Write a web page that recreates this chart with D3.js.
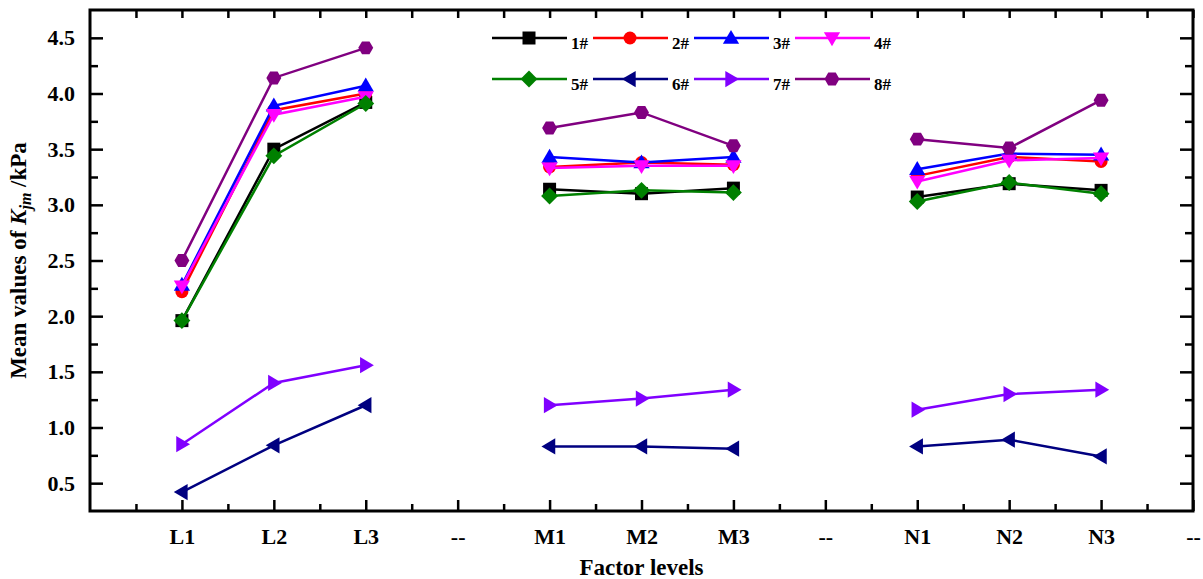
<!DOCTYPE html>
<html>
<head>
<meta charset="utf-8">
<script src="https://cdn.jsdelivr.net/npm/d3@7"></script>
<style>
  body { margin: 0; background: #fff; }
  text { font-family: "Liberation Serif", "Times New Roman", serif; font-weight: bold; }
</style>
</head>
<body>
<div id="chart"></div>
<script>
// category labels along the x axis (position 1..12)
var categories = ["L1", "L2", "L3", "--", "M1", "M2", "M3", "--", "N1", "N2", "N3", "--"];
// positions of the measured levels (the "--" slots stay empty)
var levelPos = [1, 2, 3, 5, 6, 7, 9, 10, 11];

var yTicks = [0.5, 1.0, 1.5, 2.0, 2.5, 3.0, 3.5, 4.0, 4.5];

var seriesNames = ["1#", "2#", "3#", "4#", "5#", "6#", "7#", "8#"];
var seriesColors = ["#000000", "#ff0000", "#0000ff", "#ff00ff", "#008000", "#000080", "#8000ff", "#800080"];
var seriesShapes = ["square", "circle", "up", "down", "diamond", "left", "right", "hexagon"];

// mean values of Kjm (kPa), L1 L2 L3 | M1 M2 M3 | N1 N2 N3
var s1 = [1.96, 3.50, 3.92, 3.14, 3.10, 3.15, 3.07, 3.19, 3.13];
var s2 = [2.22, 3.85, 4.00, 3.34, 3.38, 3.36, 3.26, 3.43, 3.39];
var s3 = [2.28, 3.89, 4.07, 3.43, 3.38, 3.43, 3.32, 3.46, 3.45];
var s4 = [2.27, 3.81, 3.97, 3.33, 3.35, 3.35, 3.21, 3.40, 3.42];
var s5 = [1.96, 3.44, 3.91, 3.08, 3.13, 3.11, 3.03, 3.20, 3.10];
var s6 = [0.42, 0.84, 1.20, 0.83, 0.83, 0.81, 0.83, 0.89, 0.74];
var s7 = [0.85, 1.40, 1.56, 1.20, 1.26, 1.34, 1.16, 1.30, 1.34];
var s8 = [2.50, 4.14, 4.41, 3.69, 3.83, 3.53, 3.59, 3.51, 3.94];
var allSeries = [s1, s2, s3, s4, s5, s6, s7, s8];

var W = 1203, H = 579;
var plot = {left: 90, right: 1193, top: 10, bottom: 511};

var svg = d3.select("#chart").append("svg")
  .attr("width", W).attr("height", H);

var x = d3.scaleLinear().domain([0, 12]).range([plot.left, plot.right]);
var y = d3.scaleLinear().domain([0.25, 4.75]).range([plot.bottom, plot.top]);

// marker path around 0,0
function marker(shape, r) {
  var p;
  if (shape == "square") {
    return "M" + (-r) + "," + (-r) + "H" + r + "V" + r + "H" + (-r) + "Z";
  }
  if (shape == "circle") {
    return d3.symbol(d3.symbolCircle, Math.PI * r * r)();
  }
  if (shape == "diamond") {
    var d = r * 1.3;
    return "M0," + (-d) + "L" + d + ",0L0," + d + "L" + (-d) + ",0Z";
  }
  if (shape == "hexagon") {
    p = d3.range(6).map(function(i) {
      var a = Math.PI / 3 * i;
      return [r * 1.15 * Math.cos(a), r * 1.15 * Math.sin(a)];
    });
    return "M" + p.join("L") + "Z";
  }
  var t = r * 1.25;
  if (shape == "up") p = [[0, -t], [t, t * 0.7], [-t, t * 0.7]];
  if (shape == "down") p = [[0, t], [t, -t * 0.7], [-t, -t * 0.7]];
  if (shape == "left") p = [[-t, 0], [t * 0.7, -t], [t * 0.7, t]];
  if (shape == "right") p = [[t, 0], [-t * 0.7, -t], [-t * 0.7, t]];
  return "M" + p.join("L") + "Z";
}

// axes: bottom/left with labels, top/right mirrored, all ticks pointing inward
var majorX = d3.range(1, 13);
var minorX = d3.range(0.5, 12, 1);
var minorY = d3.range(0.75, 4.6, 0.5);

function tickAxis(axisFn, scale, vals, len, labels, pad) {
  var a = axisFn(scale).tickValues(vals).tickSizeInner(-len).tickSizeOuter(0);
  if (labels) a.tickFormat(labels).tickPadding(pad);
  else a.tickFormat("");
  return a;
}

var gx = svg.append("g").attr("transform", "translate(0," + plot.bottom + ")");
gx.call(tickAxis(d3.axisBottom, x, majorX, 11, function(d) { return categories[d - 1]; }, 17));
gx.append("g").call(tickAxis(d3.axisBottom, x, minorX, 7));

var gt = svg.append("g").attr("transform", "translate(0," + plot.top + ")");
gt.call(tickAxis(d3.axisTop, x, majorX, 8));
gt.append("g").call(tickAxis(d3.axisTop, x, minorX, 8));

var gy = svg.append("g").attr("transform", "translate(" + plot.left + ",0)");
gy.call(tickAxis(d3.axisLeft, y, yTicks, 13, d3.format(".1f"), 15));
gy.append("g").call(tickAxis(d3.axisLeft, y, minorY, 8));

var gr = svg.append("g").attr("transform", "translate(" + plot.right + ",0)");
gr.call(tickAxis(d3.axisRight, y, yTicks, 13));
gr.append("g").call(tickAxis(d3.axisRight, y, minorY, 8));

svg.selectAll(".domain").remove();
svg.selectAll(".tick line").attr("stroke", "#000").attr("stroke-width", 2.5);
svg.selectAll(".tick text").attr("fill", "#000").style("font-size", "22px")
  .style("font-family", "'Liberation Serif', serif").style("font-weight", "bold");

svg.append("rect")
  .attr("x", plot.left).attr("y", plot.top)
  .attr("width", plot.right - plot.left).attr("height", plot.bottom - plot.top)
  .attr("fill", "none").attr("stroke", "#000").attr("stroke-width", 3);

// data lines, three segments per series (L, M, N)
var line = d3.line()
  .x(function(d) { return x(d.pos); })
  .y(function(d) { return y(d.value); });

allSeries.forEach(function(vals, si) {
  var pts = vals.map(function(v, i) { return { pos: levelPos[i], value: v }; });
  var g = svg.append("g");
  [0, 3, 6].forEach(function(start) {
    g.append("path")
      .datum(pts.slice(start, start + 3))
      .attr("fill", "none")
      .attr("stroke", seriesColors[si])
      .attr("stroke-width", 2.5)
      .attr("d", line);
  });
  g.selectAll(".pt").data(pts).enter().append("path")
    .attr("class", "pt")
    .attr("transform", function(d) { return "translate(" + x(d.pos) + "," + y(d.value) + ")"; })
    .attr("d", marker(seriesShapes[si], 6.5))
    .attr("fill", seriesColors[si]);
});

// legend, two rows of four
var legend = svg.append("g");
seriesNames.forEach(function(name, i) {
  var lx = 492 + (i % 4) * 101;
  var ly = i < 4 ? 38 : 79;
  var item = legend.append("g").attr("transform", "translate(" + lx + "," + ly + ")");
  item.append("line")
    .attr("x1", 0).attr("x2", 75).attr("y1", 0).attr("y2", 0)
    .attr("stroke", seriesColors[i]).attr("stroke-width", 2.5);
  item.append("path")
    .attr("transform", "translate(37,0)")
    .attr("d", marker(seriesShapes[i], 6.5))
    .attr("fill", seriesColors[i]);
  item.append("text")
    .attr("x", 79).attr("y", 11)
    .style("font-size", "17px")
    .text(name);
});

// axis titles
svg.append("text")
  .attr("x", (plot.left + plot.right) / 2).attr("y", 575)
  .attr("text-anchor", "middle")
  .style("font-size", "23px")
  .text("Factor levels");

var yt = svg.append("text")
  .attr("transform", "translate(26," + (plot.top + plot.bottom) / 2 + ") rotate(-90)")
  .attr("text-anchor", "middle")
  .style("font-size", "23px");
yt.append("tspan").text("Mean values of ");
yt.append("tspan").style("font-style", "italic").text("K");
yt.append("tspan").style("font-style", "italic").style("font-size", "16px").attr("dy", 5).text("jm");
yt.append("tspan").attr("dy", -5).text(" /kPa");
</script>
</body>
</html>
